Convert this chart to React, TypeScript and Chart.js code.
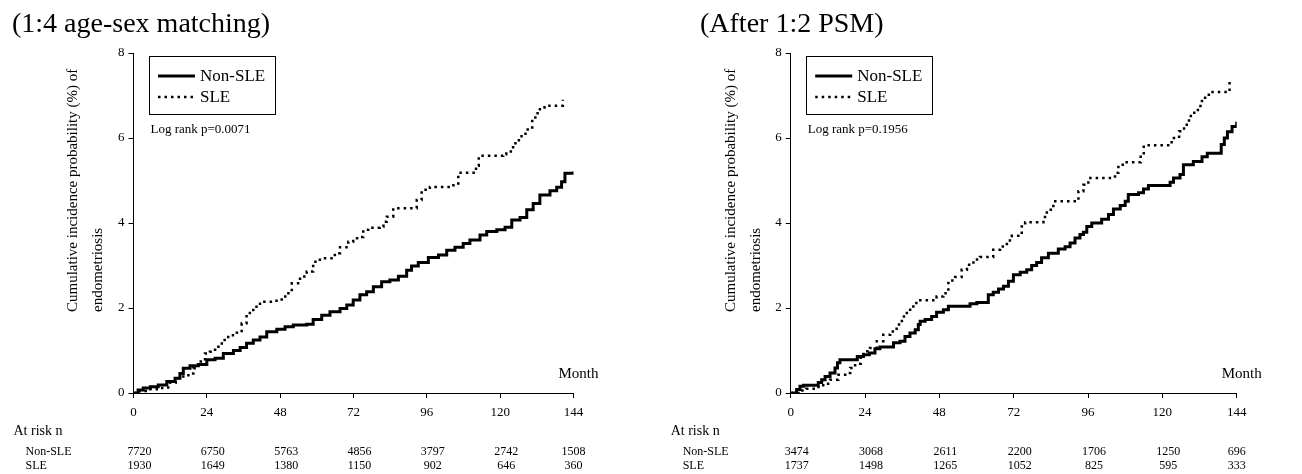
import React, { useEffect, useRef } from "react";
import { Chart, registerables } from "chart.js";

Chart.register(...registerables);

const SERIF = "'Liberation Serif', 'Times New Roman', serif";

// ---------- shared labels ----------
const MONTH_TICKS = [0, 24, 48, 72, 96, 120, 144];
const SERIES_LABELS = ["Non-SLE", "SLE"];
const Y_TITLE_LINES = ["Cumulative incidence probability (%) of", "endometriosis"];
const X_LABEL = "Month";
const AT_RISK_LABEL = "At risk n";

// ---------- left panel (1:4 age-sex matching) ----------
const leftTitle = "(1:4 age-sex matching)";
const leftLogRank = "Log rank p=0.0071";
const leftNonSleMonths = [0, 1.5, 3.2, 5.5, 8.1, 10.9, 13.6, 15.2, 16.3, 18.5, 21.2, 24.0, 26.7, 29.4, 32.7, 34.9, 37.0, 39.2, 41.4, 43.6, 46.9, 49.6, 52.3, 56.7, 58.8, 61.6, 64.3, 67.6, 69.8, 71.9, 74.1, 76.3, 78.5, 81.2, 83.9, 86.7, 89.4, 91.0, 93.2, 96.5, 99.8, 102.5, 105.2, 107.9, 110.1, 113.4, 115.6, 118.9, 121.6, 123.8, 126.5, 128.7, 130.8, 133.0, 136.3, 138.5, 140.1, 141.2, 144];
const leftNonSleValues = [0, 0.07, 0.12, 0.15, 0.19, 0.27, 0.35, 0.46, 0.58, 0.64, 0.67, 0.78, 0.82, 0.93, 1.0, 1.07, 1.17, 1.25, 1.32, 1.44, 1.5, 1.56, 1.6, 1.62, 1.73, 1.83, 1.91, 1.99, 2.07, 2.19, 2.31, 2.38, 2.5, 2.62, 2.66, 2.75, 2.89, 2.99, 3.07, 3.19, 3.25, 3.36, 3.43, 3.52, 3.6, 3.72, 3.8, 3.84, 3.9, 4.07, 4.13, 4.31, 4.46, 4.66, 4.76, 4.84, 4.97, 5.17, 5.21];
const leftSleMonths = [0, 2, 4, 7.6, 10.3, 11.9, 13.8, 16.3, 18.5, 19.6, 21.2, 23.4, 25.0, 26.7, 28.9, 31.0, 33.8, 35.4, 37.0, 39.2, 41.4, 45.8, 48.5, 50.7, 51.8, 54.5, 56.7, 58.8, 61.0, 65.9, 67.6, 70.3, 71.9, 74.1, 75.2, 76.8, 80.6, 81.8, 82.9, 85.0, 92.7, 94.3, 97.0, 104.7, 106.3, 112.1, 113, 121, 122, 123.5, 125, 127, 129, 130.5, 131.5, 133, 134.5, 140.5];
const leftSleValues = [0, 0.05, 0.09, 0.12, 0.13, 0.24, 0.35, 0.42, 0.46, 0.58, 0.74, 0.93, 0.97, 1.09, 1.25, 1.36, 1.42, 1.64, 1.88, 2.03, 2.15, 2.17, 2.27, 2.38, 2.58, 2.74, 2.86, 3.09, 3.17, 3.29, 3.43, 3.56, 3.64, 3.67, 3.84, 3.89, 3.91, 4.03, 4.15, 4.35, 4.54, 4.78, 4.85, 4.93, 5.18, 5.35, 5.58, 5.62, 5.68, 5.78, 5.95, 6.1, 6.25, 6.45, 6.58, 6.72, 6.76, 6.9];
const leftRiskNonSle = [7720, 6750, 5763, 4856, 3797, 2742, 1508];
const leftRiskSle = [1930, 1649, 1380, 1150, 902, 646, 360];

// ---------- right panel (After 1:2 PSM) ----------
const rightTitle = "(After 1:2 PSM)";
const rightLogRank = "Log rank p=0.1956";
const rightNonSleMonths = [0, 1.9, 3.0, 4.1, 8.9, 10.0, 11.1, 12.7, 14.3, 15.1, 15.9, 21.5, 23.5, 25.4, 27.2, 28.8, 33.2, 35.3, 36.9, 38.5, 40.2, 41.2, 41.8, 43.4, 45.5, 47.1, 49.3, 50.9, 57.9, 60.1, 63.8, 65.4, 67.1, 68.7, 70.3, 71.9, 74.1, 76.2, 77.8, 79.4, 81.0, 83.2, 86.4, 88.6, 90.2, 91.8, 93.4, 94.5, 95.6, 97.2, 100.4, 102.6, 104.2, 106.4, 108.0, 109.0, 112.3, 113.9, 115.5, 122.5, 123.6, 125.7, 126.8, 130.0, 132.8, 134.5, 139.0, 140.0, 141.0, 142.5, 144];
const rightNonSleValues = [0, 0.08, 0.16, 0.18, 0.25, 0.31, 0.39, 0.47, 0.59, 0.71, 0.78, 0.86, 0.9, 0.94, 1.04, 1.08, 1.18, 1.22, 1.33, 1.41, 1.49, 1.61, 1.69, 1.73, 1.8, 1.9, 1.96, 2.04, 2.1, 2.13, 2.31, 2.37, 2.45, 2.51, 2.63, 2.78, 2.84, 2.9, 3.0, 3.07, 3.18, 3.29, 3.39, 3.44, 3.53, 3.65, 3.73, 3.78, 3.92, 4.0, 4.09, 4.2, 4.33, 4.41, 4.51, 4.67, 4.71, 4.8, 4.88, 4.96, 5.06, 5.14, 5.37, 5.45, 5.56, 5.64, 5.85, 6.0, 6.15, 6.27, 6.38];
const rightSleMonths = [0, 3, 5, 8, 10.5, 12.7, 15.4, 18.1, 19.2, 20.8, 22.6, 23.5, 25.6, 27.8, 29.9, 32.1, 34.2, 35.9, 37.5, 39.6, 41.2, 47.1, 49.3, 50.9, 53.1, 55.2, 56.9, 59.0, 61.1, 65.4, 67.6, 69.8, 71.4, 73.5, 74.6, 75.7, 81.6, 82.7, 84.8, 92.9, 94.5, 96.1, 104.7, 105.8, 108, 113, 114, 123, 125.4, 127, 128.6, 130.3, 132.3, 133.8, 135, 141.7];
const rightSleValues = [0, 0.06, 0.1, 0.14, 0.22, 0.31, 0.43, 0.47, 0.59, 0.69, 0.9, 0.98, 1.06, 1.22, 1.37, 1.45, 1.61, 1.8, 1.96, 2.12, 2.18, 2.27, 2.35, 2.65, 2.73, 2.9, 3.02, 3.14, 3.2, 3.37, 3.45, 3.59, 3.7, 3.73, 3.92, 4.02, 4.14, 4.31, 4.51, 4.75, 4.9, 5.06, 5.18, 5.37, 5.43, 5.6, 5.83, 6.0, 6.16, 6.31, 6.52, 6.66, 6.87, 6.95, 7.08, 7.33];
const rightRiskNonSle = [3474, 3068, 2611, 2200, 1706, 1250, 696];
const rightRiskSle = [1737, 1498, 1265, 1052, 825, 595, 333];

type PanelProps = {
  title: string;
  titleX: number;
  logRank: string;
  nonSleMonths: number[];
  nonSleValues: number[];
  sleMonths: number[];
  sleValues: number[];
  riskNonSle: number[];
  riskSle: number[];
  plotLeft: number;
  plotRight: number;
};

const W = 651;
const H = 474;
const PLOT_TOP = 53;
const PLOT_BOTTOM = 393;
const X_AXIS_H = 30;

function toPoints(xs: number[], ys: number[]) {
  return xs.map((x, i) => ({ x, y: ys[i] }));
}

function Panel(p: PanelProps) {
  const ref = useRef<HTMLCanvasElement | null>(null);

  useEffect(() => {
    const canvas = ref.current;
    if (!canvas) return;

    const overlay = {
      id: "overlay",
      afterDraw(chart: any) {
        const { ctx, chartArea } = chart;
        const xs = chart.scales.x;
        const L = chartArea.left;
        const T = chartArea.top;
        const R = chartArea.right;
        const B = chartArea.bottom;
        ctx.save();
        ctx.fillStyle = "#000";
        ctx.strokeStyle = "#000";

        // panel title
        ctx.textAlign = "left";
        ctx.textBaseline = "alphabetic";
        ctx.font = `28px ${SERIF}`;
        ctx.fillText(p.title, p.titleX, 32);

        // y axis title (two rotated lines)
        ctx.font = `15px ${SERIF}`;
        ctx.textBaseline = "middle";
        Y_TITLE_LINES.forEach((line, i) => {
          ctx.save();
          ctx.translate(L - 60 + i * 25, 312);
          ctx.rotate(-Math.PI / 2);
          ctx.textAlign = "left";
          ctx.fillText(line, 0, 0);
          ctx.restore();
        });

        // legend box
        const bx = L + 15.5;
        const by = T + 3;
        ctx.lineWidth = 1;
        ctx.setLineDash([]);
        ctx.strokeRect(Math.round(bx) + 0.5, by + 0.5, 126, 58);
        const rows = [T + 23, T + 44];
        SERIES_LABELS.forEach((lab, i) => {
          ctx.beginPath();
          ctx.lineWidth = i === 0 ? 3 : 2.5;
          ctx.setLineDash(i === 0 ? [] : [2.5, 4]);
          ctx.moveTo(bx + 9, rows[i]);
          ctx.lineTo(bx + 46, rows[i]);
          ctx.stroke();
          ctx.setLineDash([]);
          ctx.font = `17px ${SERIF}`;
          ctx.textAlign = "left";
          ctx.textBaseline = "middle";
          ctx.fillText(lab, bx + 51, rows[i] + 1);
        });

        // log rank
        ctx.font = `13px ${SERIF}`;
        ctx.textAlign = "left";
        ctx.textBaseline = "middle";
        ctx.fillText(p.logRank, L + 17, T + 77);

        // x axis label
        ctx.font = `15px ${SERIF}`;
        ctx.fillText(X_LABEL, R - 15, B - 19);

        // at-risk table
        ctx.font = `14px ${SERIF}`;
        ctx.fillText(AT_RISK_LABEL, L - 120, B + 38);
        ctx.font = `12px ${SERIF}`;
        ctx.fillText(SERIES_LABELS[0], L - 108, B + 59);
        ctx.fillText(SERIES_LABELS[1], L - 108, B + 73);
        ctx.textAlign = "center";
        MONTH_TICKS.forEach((m, i) => {
          const x = xs.getPixelForValue(m) + (i < MONTH_TICKS.length - 1 ? 6 : 0);
          ctx.fillText(String(p.riskNonSle[i]), x, B + 59);
          ctx.fillText(String(p.riskSle[i]), x, B + 73);
        });
        ctx.restore();
      },
    };

    const chart = new Chart(canvas, {
      type: "line",
      data: {
        datasets: [
          {
            label: SERIES_LABELS[0],
            data: toPoints(p.nonSleMonths, p.nonSleValues),
            stepped: "before",
            borderColor: "#000",
            borderWidth: 3,
            pointRadius: 0,
            fill: false,
            borderCapStyle: "butt",
            borderJoinStyle: "miter",
          },
          {
            label: SERIES_LABELS[1],
            data: toPoints(p.sleMonths, p.sleValues),
            stepped: "before",
            borderColor: "#000",
            borderWidth: 2.5,
            borderDash: [2.5, 4],
            pointRadius: 0,
            fill: false,
            borderCapStyle: "butt",
          },
        ],
      },
      options: {
        animation: false,
        responsive: false,
        maintainAspectRatio: false,
        devicePixelRatio: 1,
        events: [],
        layout: {
          padding: {
            top: PLOT_TOP,
            left: 0,
            right: W - p.plotRight,
            bottom: H - PLOT_BOTTOM - X_AXIS_H,
          },
        },
        plugins: {
          legend: { display: false },
          tooltip: { enabled: false },
          title: { display: false },
        },
        scales: {
          x: {
            type: "linear",
            min: 0,
            max: 144,
            afterFit: (s: any) => {
              s.height = X_AXIS_H;
            },
            afterBuildTicks: (s: any) => {
              s.ticks = MONTH_TICKS.map((v) => ({ value: v }));
            },
            ticks: {
              color: "#000",
              font: { family: SERIF, size: 13 },
              padding: 7,
              maxRotation: 0,
              autoSkip: false,
            },
            grid: {
              drawOnChartArea: false,
              drawTicks: true,
              tickLength: 5,
              color: "#000",
            },
            border: { display: true, color: "#000", width: 1 },
          },
          y: {
            type: "linear",
            min: 0,
            max: 8,
            afterFit: (s: any) => {
              s.width = p.plotLeft;
            },
            ticks: {
              stepSize: 2,
              color: "#000",
              font: { family: SERIF, size: 13 },
              padding: 4,
            },
            grid: {
              drawOnChartArea: false,
              drawTicks: true,
              tickLength: 5,
              color: "#000",
            },
            border: { display: true, color: "#000", width: 1 },
          },
        },
      },
      plugins: [overlay],
    } as any);

    return () => chart.destroy();
  }, []);

  return <canvas ref={ref} width={W} height={H} style={{ display: "block", width: W, height: H }} />;
}

export default function App() {
  return (
    <div
      style={{
        position: "absolute",
        left: 0,
        top: 0,
        width: 1302,
        height: 474,
        display: "flex",
        background: "#fff",
      }}
    >
      <Panel
        title={leftTitle}
        titleX={12}
        logRank={leftLogRank}
        nonSleMonths={leftNonSleMonths}
        nonSleValues={leftNonSleValues}
        sleMonths={leftSleMonths}
        sleValues={leftSleValues}
        riskNonSle={leftRiskNonSle}
        riskSle={leftRiskSle}
        plotLeft={133.5}
        plotRight={573.5}
      />
      <Panel
        title={rightTitle}
        titleX={49}
        logRank={rightLogRank}
        nonSleMonths={rightNonSleMonths}
        nonSleValues={rightNonSleValues}
        sleMonths={rightSleMonths}
        sleValues={rightSleValues}
        riskNonSle={rightRiskNonSle}
        riskSle={rightRiskSle}
        plotLeft={139.7}
        plotRight={585.7}
      />
    </div>
  );
}
